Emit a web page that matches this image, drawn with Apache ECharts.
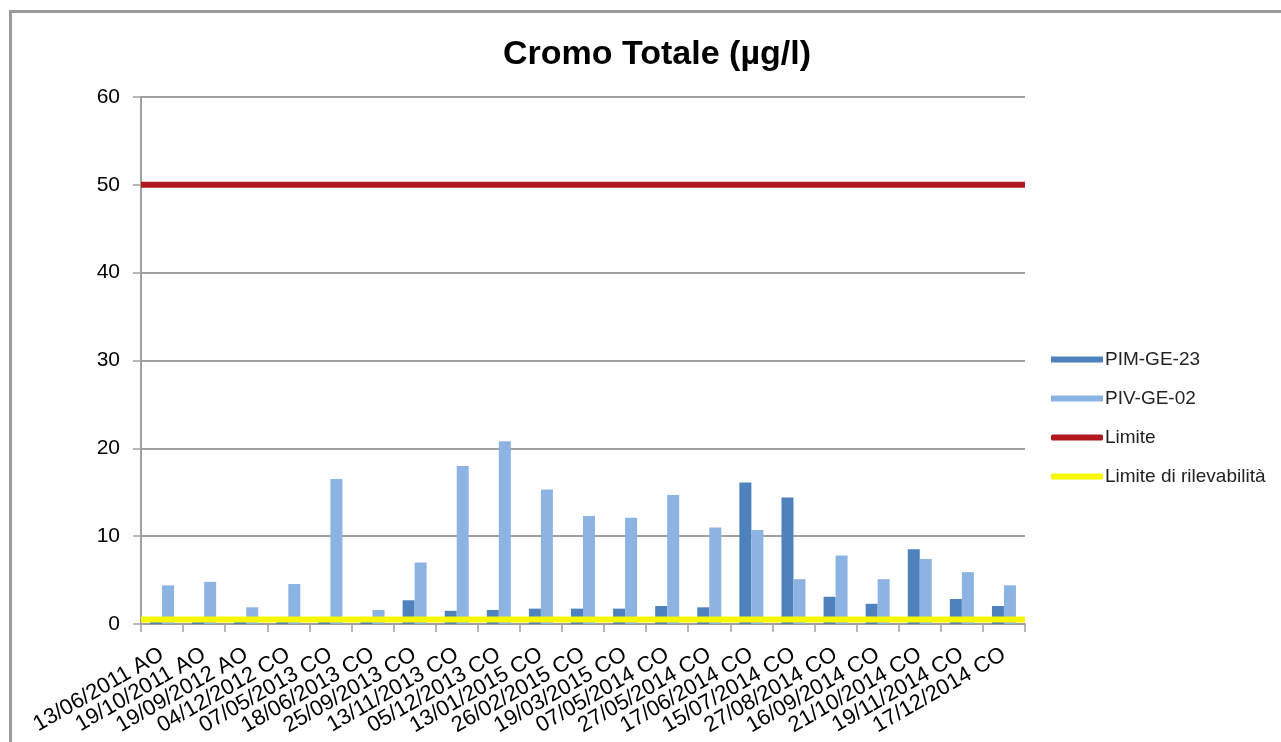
<!DOCTYPE html>
<html>
<head>
<meta charset="utf-8">
<title>Cromo Totale</title>
<script src="https://cdn.jsdelivr.net/npm/echarts@6/dist/echarts.min.js"></script>
<style>
  html, body { margin: 0; padding: 0; background: #ffffff; }
  #chart { width: 1281px; height: 742px; }
</style>
</head>
<body>
<div id="chart"></div>
<script>
// Sampling dates (campaign code AO / CO)
const categories = [
  '13/06/2011 AO', '19/10/2011 AO', '19/09/2012 AO', '04/12/2012 CO',
  '07/05/2013 CO', '18/06/2013 CO', '25/09/2013 CO', '13/11/2013 CO',
  '05/12/2013 CO', '13/01/2015 CO', '26/02/2015 CO', '19/03/2015 CO',
  '07/05/2014 CO', '27/05/2014 CO', '17/06/2014 CO', '15/07/2014 CO',
  '27/08/2014 CO', '16/09/2014 CO', '21/10/2014 CO', '19/11/2014 CO',
  '17/12/2014 CO'
];

// Total chromium, µg/l
const pimGe23 = [0.3, 0.3, 0.3, 0.3, 0.3, 0.3, 2.7, 1.5, 1.6, 1.75, 1.75,
                 1.75, 2.05, 1.9, 16.1, 14.4, 3.1, 2.3, 8.5, 2.85, 2.05];
const pivGe02 = [4.4, 4.8, 1.9, 4.55, 16.5, 1.6, 7.0, 18.0, 20.8, 15.3, 12.3,
                 12.1, 14.7, 11.0, 10.7, 5.1, 7.8, 5.1, 7.4, 5.9, 4.4];

// Regulatory limit and detection limit, µg/l
const limite = 50;
const limiteRilevabilita = 0.5;

// Value axis ticks
const yMin = 0, yMax = 60, yStep = 10;

const seriesNames = ['PIM-GE-23', 'PIV-GE-02', 'Limite', 'Limite di rilevabilità'];
const colors = ['#4f81bd', '#8db3e2', '#b2191f', '#f7f700'];

// Horizontal reference lines span the full plot width via a hidden 0..1 axis
const fullWidth = v => [[0, v], [1, v]];

const FONT = '"Liberation Sans", Arial, sans-serif';

const chart = echarts.init(document.getElementById('chart'), null, { renderer: 'canvas' });

chart.setOption({
  animation: false,
  backgroundColor: '#ffffff',
  textStyle: { fontFamily: FONT },
  graphic: [{
    type: 'rect',
    shape: { x: 10.5, y: 11.5, width: 1400, height: 900 },
    style: { fill: 'none', stroke: '#9a9a9a', lineWidth: 3 },
    silent: true
  }],
  title: {
    text: 'Cromo Totale (µg/l)',
    left: 652,
    textAlign: 'center',
    top: 33,
    textStyle: {
      fontFamily: FONT,
      fontSize: 34,
      fontWeight: 'bold',
      color: '#000000'
    }
  },
  legend: {
    orient: 'vertical',
    left: 1046,
    top: 345,
    itemWidth: 52,
    itemHeight: 6,
    itemGap: 20,
    textStyle: {
      fontFamily: FONT,
      fontSize: 19,
      color: '#222222',
      padding: [0, 0, 0, -3]
    },
    data: [
      { name: seriesNames[0], icon: 'rect' },
      { name: seriesNames[1], icon: 'rect' },
      { name: seriesNames[2], icon: 'roundRect' },
      { name: seriesNames[3], icon: 'roundRect' }
    ]
  },
  grid: { left: 141, right: 256, top: 97, bottom: 118, containLabel: false },
  xAxis: [{
    type: 'category',
    data: categories,
    axisLine: { lineStyle: { color: '#a0a0a0', width: 2 } },
    axisTick: { show: true, length: 8, lineStyle: { color: '#a0a0a0', width: 1.5 } },
    axisLabel: {
      interval: 0,
      rotate: 30,
      margin: 29,
      fontSize: 22,
      color: '#000000',
      fontFamily: FONT
    }
  }, {
    type: 'value',
    min: 0,
    max: 1,
    show: false
  }],
  yAxis: {
    type: 'value',
    min: yMin,
    max: yMax,
    interval: yStep,
    axisLine: { show: true, lineStyle: { color: '#a0a0a0', width: 2 } },
    axisTick: { show: true, length: 8, lineStyle: { color: '#a0a0a0', width: 1.5 } },
    splitLine: { lineStyle: { color: '#a0a0a0', width: 2 } },
    axisLabel: {
      margin: 21,
      fontSize: 21,
      color: '#000000',
      fontFamily: FONT
    }
  },
  series: [
    {
      name: seriesNames[0],
      type: 'bar',
      data: pimGe23,
      barWidth: 12,
      barGap: '0%',
      itemStyle: { color: colors[0] }
    },
    {
      name: seriesNames[1],
      type: 'bar',
      data: pivGe02,
      barWidth: 12,
      barGap: '0%',
      itemStyle: { color: colors[1] }
    },
    {
      name: seriesNames[2],
      type: 'line',
      xAxisIndex: 1,
      data: fullWidth(limite),
      symbol: 'none',
      lineStyle: { color: colors[2], width: 6 },
      itemStyle: { color: colors[2] },
      z: 5
    },
    {
      name: seriesNames[3],
      type: 'line',
      xAxisIndex: 1,
      data: fullWidth(limiteRilevabilita),
      symbol: 'none',
      lineStyle: { color: colors[3], width: 6 },
      itemStyle: { color: colors[3] },
      z: 5
    }
  ]
});
</script>
</body>
</html>
